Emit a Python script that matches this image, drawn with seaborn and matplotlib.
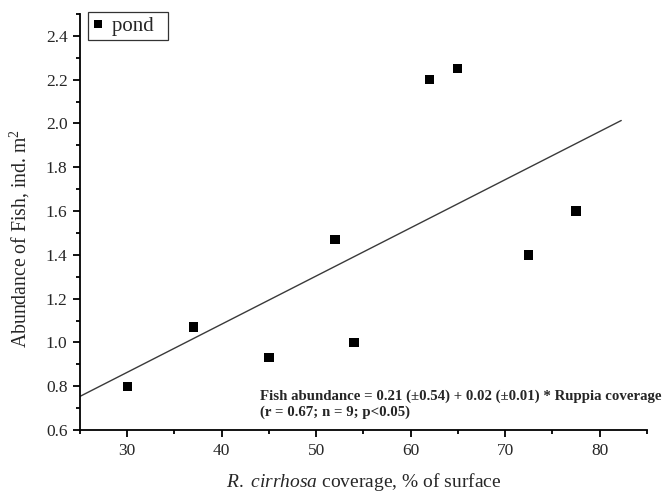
import numpy as np
import pandas as pd
import matplotlib
matplotlib.use("Agg")
import matplotlib.pyplot as plt
from matplotlib.ticker import MultipleLocator
import seaborn as sns

coverage = [30, 37, 45, 52, 54, 62, 65, 72.5, 77.5]
abundance = [0.80, 1.07, 0.93, 1.47, 1.00, 2.20, 2.25, 1.40, 1.60]
series_name = "pond"
fit_range = [25, 82.3]
eq_line1 = "Fish abundance = 0.21 (\u00b10.54) + 0.02 (\u00b10.01) * Ruppia coverage"
eq_line2 = "(r = 0.67; n = 9; p<0.05)"

sns.set_theme(style="ticks")
plt.rcParams['font.family'] = ['Liberation Serif', 'DejaVu Serif']
plt.rcParams['mathtext.fontset'] = 'custom'
plt.rcParams['mathtext.rm'] = 'Liberation Serif'
plt.rcParams['mathtext.it'] = 'Liberation Serif:italic'

df = pd.DataFrame({"coverage": coverage, "abundance": abundance, "site": series_name})

fig = plt.figure(figsize=(6.64, 4.92), dpi=100)
ax = fig.add_axes([0.1205, 0.126, 0.8535, 0.8455])

slope, intercept = np.polyfit(coverage, abundance, 1)
xl = np.array(fit_range)
ax.plot(xl, intercept + slope * xl, color="#3a3a3a", lw=1.0, zorder=1)

sns.scatterplot(data=df, x="coverage", y="abundance", hue="site", palette=["black"],
                marker="s", s=45, edgecolor="black", linewidth=0, ax=ax, zorder=3)

ax.set_xlim(25, 85)
ax.set_ylim(0.6, 2.5)
ax.xaxis.set_minor_locator(MultipleLocator(5))
ax.yaxis.set_minor_locator(MultipleLocator(0.1))
ax.set_xticks([30, 40, 50, 60, 70, 80])
yt = np.round(np.arange(0.6, 2.41, 0.2), 1)
ax.set_yticks(yt)
ax.set_yticklabels([f"{v:.1f}" for v in yt])
ax.tick_params(which="major", length=5, width=1.3, labelsize=12.5, direction="out", color="black", pad=4)
ax.tick_params(which="minor", length=3, width=1.3, direction="out", color="black")
for s in ["left", "bottom"]:
    ax.spines[s].set_linewidth(1.3)
    ax.spines[s].set_color("black")
sns.despine(ax=ax)

ax.set_xlabel(r"$\it{R.}$ $\it{cirrhosa}$ coverage, % of surface", fontsize=14, labelpad=9)
ax.set_ylabel(r"Abundance of Fish, ind. m$^{2}$", fontsize=14.2, labelpad=6)
ax.yaxis.set_label_coords(-0.085, 0.46)

leg = ax.legend(loc="upper left", bbox_to_anchor=(0.014, 1.004), frameon=True, fancybox=False,
                edgecolor="black", fontsize=15, handletextpad=0.35, borderpad=0.2,
                handlelength=0.6, borderaxespad=0, markerscale=0.8)
leg.get_frame().set_linewidth(0.9)
for t in leg.get_texts():
    t.set_text(t.get_text() + "\u00a0\u00a0")

ax.text(0.317, 0.082, eq_line1, transform=ax.transAxes, ha="left", va="center",
        fontsize=10.7, fontweight="bold")
ax.text(0.317, 0.043, eq_line2, transform=ax.transAxes, ha="left", va="center",
        fontsize=10.7, fontweight="bold")

fig.savefig("out.png", dpi=100)
